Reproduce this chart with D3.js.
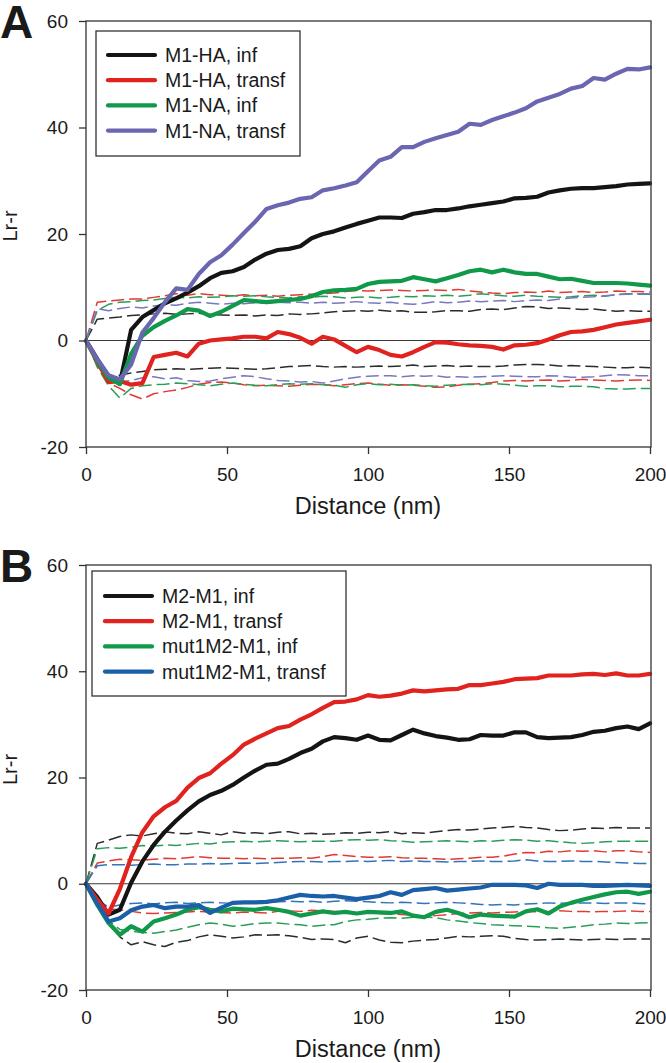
<!DOCTYPE html>
<html><head><meta charset="utf-8">
<script src="https://cdn.jsdelivr.net/npm/d3@7"></script>
<style>
body{margin:0;background:#fff}
svg{display:block}
text{font-family:"Liberation Sans",Arial,sans-serif;fill:#1a1a1a}
</style>
</head><body>
<svg id="chart" width="666" height="1063"></svg>
<script>
// ---------- data ----------
const distance = [0,4,8,12,16,20,24,28,32,36,40,44,48,52,56,60,64,68,72,76,80,84,88,92,96,100,104,108,112,116,120,124,128,132,136,140,144,148,152,156,160,164,168,172,176,180,184,188,192,196,200];
const xTickValues = [0,50,100,150,200];
const yTickValues = [-20,0,20,40,60];
const panelLabels = ["A","B"];
const axisTitleX = "Distance (nm)";
const axisTitleY = "Lr-r";

// Panel A
const legendA = ["M1-HA, inf","M1-HA, transf","M1-NA, inf","M1-NA, transf"];
const a_M1HA_inf = [0,-3.5,-6.8,-8.1,2.0,4.4,5.7,7.0,7.9,9.0,10.2,11.7,12.7,13.0,13.8,15.2,16.3,17.0,17.2,17.7,19.2,20.0,20.5,21.2,21.9,22.5,23.1,23.1,23.0,23.8,24.1,24.5,24.5,24.8,25.2,25.5,25.8,26.1,26.7,26.8,27.0,27.8,28.2,28.5,28.6,28.6,28.8,29.0,29.3,29.4,29.5];
const a_M1HA_transf = [0,-4.0,-7.8,-7.6,-8.3,-8.0,-3.1,-2.7,-2.3,-3.0,-0.6,0.0,0.2,0.4,0.7,0.7,0.4,1.6,1.2,0.5,-0.6,0.7,0.2,-1.0,-2.2,-1.2,-1.8,-2.7,-3.0,-2.2,-1.2,-0.3,-0.4,-0.7,-0.9,-1.0,-1.2,-1.7,-0.9,-0.8,-0.5,0.2,1.0,1.6,1.7,2.0,2.5,3.0,3.3,3.6,3.9];
const a_M1NA_inf = [0,-3.8,-7.0,-8.2,-2.5,0.9,2.5,3.7,4.7,5.9,5.6,4.6,5.4,6.5,7.6,7.4,7.2,7.4,7.6,7.8,8.3,9.1,9.4,9.5,9.7,10.6,11.0,11.1,11.2,11.9,11.5,11.1,11.7,12.3,13.0,13.3,12.8,13.3,12.8,12.5,12.5,12.0,11.5,11.6,11.2,10.8,10.8,10.8,10.7,10.5,10.3];
const a_M1NA_transf = [0,-3.5,-6.5,-7.3,-4.5,1.5,4.2,7.2,9.8,9.5,12.5,14.7,16.0,18.0,20.2,22.3,24.7,25.4,25.9,26.6,26.9,28.2,28.6,29.1,29.7,31.8,33.8,34.5,36.3,36.3,37.3,38.0,38.6,39.2,40.7,40.5,41.4,42.1,42.8,43.6,44.9,45.6,46.3,47.3,47.8,49.3,49.0,50.1,51.0,50.9,51.3];
const a_M1HA_inf_hi = [0,4.0,4.2,4.4,4.7,4.8,5.0,5.1,4.9,5.0,5.1,4.9,4.8,4.7,4.8,4.6,4.8,4.7,5.0,4.9,5.0,5.2,5.4,5.5,5.6,5.5,5.7,5.5,5.6,5.3,5.3,5.4,5.6,5.6,5.5,5.8,5.9,5.8,6.1,6.4,6.3,6.0,6.1,6.0,5.8,5.9,5.7,5.5,5.6,5.5,5.5];
const a_M1HA_inf_lo = [0,-4.0,-7.0,-6.5,-6.1,-5.8,-5.5,-5.4,-5.3,-5.4,-5.3,-5.2,-5.1,-5.2,-5.3,-5.4,-5.3,-5.1,-4.9,-4.8,-4.7,-4.9,-5.0,-4.9,-5.0,-4.9,-4.8,-4.9,-4.8,-4.6,-4.9,-4.8,-4.7,-4.9,-4.8,-4.9,-4.9,-4.8,-4.6,-4.5,-4.5,-4.6,-4.8,-4.7,-4.8,-4.9,-5.0,-5.1,-5.1,-5.0,-5.1];
const a_M1HA_transf_hi = [0,7.2,7.4,7.6,7.8,7.8,8.1,8.4,8.8,8.5,8.8,8.6,8.5,8.4,8.6,8.4,8.5,8.3,8.5,8.6,8.7,8.8,8.9,9.2,9.4,9.3,9.4,9.5,9.4,9.3,9.4,9.5,9.4,9.6,9.3,9.1,8.9,8.8,9.0,9.1,9.0,9.3,9.0,9.1,9.2,9.0,9.1,9.3,9.2,9.2,9.1];
const a_M1HA_transf_lo = [0,-4.5,-8.0,-9.0,-10.2,-11.0,-10.0,-9.6,-9.3,-8.8,-8.2,-7.9,-7.8,-8.0,-8.3,-8.5,-8.4,-8.5,-8.6,-8.4,-8.2,-8.3,-8.5,-8.3,-8.1,-8.0,-8.2,-8.4,-8.3,-8.4,-8.6,-8.8,-8.7,-8.4,-8.2,-8.1,-7.9,-7.6,-7.5,-7.6,-7.5,-7.4,-7.6,-7.5,-7.3,-7.4,-7.5,-7.6,-7.5,-7.4,-7.5];
const a_M1NA_inf_hi = [0,5.6,6.8,7.2,7.3,7.5,7.6,7.9,8.1,8.0,8.2,8.1,8.2,8.4,8.3,8.4,8.2,8.1,8.0,8.2,8.1,8.3,8.2,8.0,8.1,8.2,8.0,8.1,8.3,8.2,8.4,8.3,8.5,8.3,8.5,8.8,8.6,8.4,8.3,8.5,8.3,8.2,8.1,8.2,8.4,8.5,8.3,8.6,8.8,8.7,8.7];
const a_M1NA_inf_lo = [0,-5.0,-8.5,-10.8,-9.0,-8.5,-8.3,-8.2,-8.0,-8.1,-8.3,-8.5,-8.2,-8.0,-8.2,-8.4,-8.5,-8.3,-8.1,-8.2,-8.1,-8.3,-8.4,-8.8,-8.3,-8.1,-8.3,-8.2,-8.4,-8.3,-8.5,-8.6,-8.4,-8.3,-8.2,-8.3,-8.1,-8.2,-8.4,-8.6,-8.5,-8.5,-8.7,-8.6,-8.6,-8.7,-9.0,-9.1,-9.1,-9.0,-9.0];
const a_M1NA_transf_hi = [0,6.0,5.6,6.0,6.3,6.1,6.5,6.7,6.6,7.0,7.2,7.0,6.8,7.0,6.9,7.1,7.0,7.2,7.1,7.2,7.0,7.2,7.0,7.1,7.3,7.1,7.0,7.2,6.9,6.8,7.0,7.3,7.1,7.2,7.4,7.3,7.4,7.5,7.3,7.5,7.6,7.5,7.8,8.0,8.1,8.2,8.4,8.6,8.7,8.8,8.8];
const a_M1NA_transf_lo = [0,-4.5,-7.5,-7.8,-7.5,-7.0,-6.8,-7.2,-7.0,-7.5,-7.7,-7.6,-7.2,-6.9,-6.6,-6.8,-7.2,-7.5,-7.6,-7.8,-7.7,-8.0,-7.6,-7.2,-6.9,-6.7,-6.6,-6.6,-6.8,-6.6,-6.7,-6.6,-6.9,-6.8,-6.9,-6.8,-6.7,-6.6,-6.7,-6.8,-6.8,-6.6,-6.7,-6.9,-6.9,-6.8,-6.6,-6.4,-6.5,-6.6,-6.6];

// Panel B
const legendB = ["M2-M1, inf","M2-M1, transf","mut1M2-M1, inf","mut1M2-M1, transf"];
const b_M2M1_inf = [0,-2.5,-5.8,-4.9,0.2,4.2,7.3,9.8,11.9,13.8,15.5,16.7,17.5,18.6,20.0,21.3,22.4,22.6,23.5,24.6,25.4,26.8,27.6,27.4,27.1,27.9,27.1,27.0,28.0,29.0,28.3,27.8,27.5,27.1,27.2,28.0,27.9,27.9,28.5,28.5,27.6,27.4,27.5,27.6,28.0,28.6,28.8,29.3,29.6,29.1,30.2];
const b_M2M1_transf = [0,-3.0,-5.6,-1.0,5.0,9.7,12.7,14.4,15.6,18.1,19.9,20.8,22.6,24.2,26.2,27.3,28.3,29.3,29.7,30.9,31.9,33.1,34.2,34.3,34.7,35.5,35.2,35.4,35.8,36.4,36.2,36.4,36.6,36.7,37.4,37.4,37.7,38.0,38.5,38.6,38.7,39.2,39.2,39.2,39.4,39.5,39.3,39.6,39.2,39.2,39.5];
const b_mut_inf = [0,-4.0,-7.4,-9.6,-8.0,-9.0,-7.1,-6.5,-5.8,-4.9,-4.4,-4.9,-5.2,-4.7,-4.8,-4.9,-4.6,-4.9,-5.3,-6.0,-5.6,-5.2,-5.5,-5.3,-5.6,-5.3,-5.4,-5.5,-5.2,-6.0,-6.3,-5.3,-4.9,-5.5,-6.3,-5.8,-6.0,-6.1,-6.2,-5.2,-4.8,-5.6,-4.3,-3.6,-3.0,-2.5,-2.0,-1.6,-1.5,-1.9,-1.5];
const b_mut_transf = [0,-3.8,-7.1,-6.5,-5.0,-4.3,-4.0,-4.6,-4.3,-4.3,-4.0,-5.5,-4.5,-3.6,-3.5,-3.5,-3.4,-3.1,-2.6,-2.1,-2.3,-2.4,-2.3,-2.6,-2.9,-2.6,-2.3,-1.6,-2.1,-1.2,-1.0,-0.8,-1.3,-1.1,-0.9,-0.7,-0.2,-0.2,-0.2,-0.3,-0.8,0.0,-0.2,-0.2,-0.2,-0.4,-0.4,-0.3,-0.2,-0.3,-0.4];
const b_M2M1_inf_hi = [0,7.6,8.2,8.9,9.2,9.0,9.4,9.8,9.5,9.4,9.8,9.5,9.2,9.8,9.5,9.6,9.4,9.7,9.8,9.4,9.5,9.3,9.4,9.6,9.5,9.7,9.6,9.8,9.4,9.6,9.5,9.8,10.0,10.2,10.1,10.3,10.5,10.6,10.8,10.6,10.5,10.2,10.0,10.1,10.3,10.5,10.4,10.6,10.5,10.5,10.5];
const b_M2M1_inf_lo = [0,-4.0,-7.5,-10.0,-11.5,-10.9,-11.5,-11.8,-11.0,-10.7,-10.0,-9.6,-9.9,-10.2,-10.0,-9.6,-9.7,-9.6,-9.8,-10.1,-10.5,-10.4,-10.5,-11.1,-10.2,-9.9,-10.6,-11.0,-11.1,-10.8,-10.6,-10.5,-10.2,-9.9,-10.0,-9.9,-9.8,-9.9,-10.3,-10.5,-10.6,-10.5,-10.4,-10.5,-10.6,-10.5,-10.4,-10.5,-10.4,-10.4,-10.4];
const b_M2M1_transf_hi = [0,3.9,4.3,4.6,4.5,4.4,4.6,4.8,4.7,4.9,5.1,4.9,4.8,4.8,4.7,4.8,4.7,4.8,4.8,4.9,4.8,5.1,5.5,5.3,5.1,5.0,5.0,5.1,4.9,4.8,4.8,4.7,4.6,4.7,4.8,5.0,5.0,5.2,5.6,5.9,5.8,6.1,6.0,6.2,6.1,6.2,6.0,6.2,6.2,6.0,5.9];
const b_M2M1_transf_lo = [0,-3.0,-4.8,-4.9,-5.2,-5.5,-5.6,-5.5,-5.4,-5.3,-5.2,-5.3,-5.4,-5.5,-5.3,-5.4,-5.5,-5.2,-5.1,-5.2,-5.0,-5.1,-5.2,-5.3,-5.5,-5.4,-5.6,-5.7,-5.8,-5.9,-6.2,-6.0,-5.8,-5.6,-5.5,-5.4,-5.5,-5.4,-5.3,-5.2,-5.3,-5.2,-5.1,-5.2,-5.2,-5.3,-5.2,-5.2,-5.1,-5.2,-5.2];
const b_mut_inf_hi = [0,6.6,6.8,6.7,6.9,7.2,7.1,7.3,7.2,7.4,7.6,7.5,7.8,7.9,8.0,7.9,8.0,8.1,8.0,7.9,8.0,8.0,8.0,8.2,8.3,8.2,8.3,8.1,8.0,7.8,7.9,8.0,8.1,8.0,7.9,8.1,8.0,8.2,8.3,8.2,8.0,8.1,7.9,7.7,7.6,7.7,7.9,8.0,8.0,8.0,8.0];
const b_mut_inf_lo = [0,-4.0,-7.0,-8.6,-8.9,-9.2,-9.3,-9.0,-8.7,-8.2,-7.7,-7.4,-7.6,-8.0,-7.8,-7.5,-7.4,-7.4,-7.6,-7.7,-8.0,-7.8,-7.7,-7.1,-6.8,-6.7,-6.5,-6.4,-6.5,-6.3,-6.2,-6.4,-6.8,-7.0,-7.3,-7.5,-7.7,-7.8,-7.9,-8.0,-8.1,-8.3,-8.4,-8.2,-8.0,-7.7,-7.6,-7.4,-7.5,-7.4,-7.3];
const b_mut_transf_hi = [0,3.4,3.6,3.6,3.5,3.6,3.7,3.6,3.6,3.7,3.7,3.8,3.7,3.8,3.9,3.8,3.9,4.0,4.1,4.2,4.2,4.1,4.2,4.2,4.3,4.2,4.3,4.4,4.2,4.3,4.2,4.2,4.1,4.2,4.2,4.3,4.2,4.2,4.3,4.5,4.3,4.2,4.2,4.3,4.2,4.2,4.1,4.0,3.9,3.8,3.8];
const b_mut_transf_lo = [0,-3.0,-4.4,-4.0,-3.7,-3.6,-3.8,-3.6,-3.5,-3.7,-3.6,-3.5,-3.6,-3.7,-3.6,-3.5,-3.6,-3.4,-3.3,-3.4,-3.3,-3.5,-3.3,-3.2,-3.3,-3.4,-3.5,-3.6,-3.5,-3.6,-3.7,-3.6,-3.5,-3.6,-3.7,-3.9,-4.0,-3.9,-4.0,-3.8,-3.7,-3.6,-3.7,-3.6,-3.6,-3.6,-3.7,-3.6,-3.6,-3.7,-3.8];

// ---------- drawing ----------
const svg = d3.select("#chart");
const x = d3.scaleLinear().domain([0,200]).range([86,650]);

const panels = [
  {label: panelLabels[0], top: 21, bottom: 447, labelY: 38,
   legend: legendA, box: {x0: 96, y0: 31, x1: 300, y1: 156}, lineX0: 108, lineX1: 155, textX: 165, row0: 55,
   series: [
     {v: a_M1HA_inf, hi: a_M1HA_inf_hi, lo: a_M1HA_inf_lo, color: "#141414", dash: "#2b2b2b"},
     {v: a_M1HA_transf, hi: a_M1HA_transf_hi, lo: a_M1HA_transf_lo, color: "#e0231f", dash: "#e23a33"},
     {v: a_M1NA_inf, hi: a_M1NA_inf_hi, lo: a_M1NA_inf_lo, color: "#10994a", dash: "#2a9e58"},
     {v: a_M1NA_transf, hi: a_M1NA_transf_hi, lo: a_M1NA_transf_lo, color: "#6a66b0", dash: "#7a76c0"}
   ]},
  {label: panelLabels[1], top: 565, bottom: 990, labelY: 582,
   legend: legendB, box: {x0: 92, y0: 571, x1: 346, y1: 696}, lineX0: 105, lineX1: 152, textX: 162, row0: 596,
   series: [
     {v: b_M2M1_inf, hi: b_M2M1_inf_hi, lo: b_M2M1_inf_lo, color: "#141414", dash: "#2b2b2b"},
     {v: b_M2M1_transf, hi: b_M2M1_transf_hi, lo: b_M2M1_transf_lo, color: "#e0231f", dash: "#e23a33"},
     {v: b_mut_inf, hi: b_mut_inf_hi, lo: b_mut_inf_lo, color: "#10994a", dash: "#2a9e58"},
     {v: b_mut_transf, hi: b_mut_transf_hi, lo: b_mut_transf_lo, color: "#1b5fa8", dash: "#3274b8"}
   ]}
];

panels.forEach(p => {
  const y = d3.scaleLinear().domain([-20,60]).range([p.bottom, p.top]);
  const g = svg.append("g");
  const line = d3.line().x((d,i) => x(distance[i])).y(d => y(d));

  // dashed envelopes
  p.series.forEach(s => {
    [s.hi, s.lo].forEach(arr => {
      g.append("path").attr("d", line(arr)).attr("fill","none")
        .attr("stroke", s.dash).attr("stroke-width", 1.5)
        .attr("stroke-dasharray", "13,5").attr("stroke-linejoin","round");
    });
  });

  // zero line
  g.append("line").attr("x1", x(0)).attr("x2", x(200)).attr("y1", y(0)).attr("y2", y(0))
    .attr("stroke", "#3a3a3a").attr("stroke-width", 1);

  // thick lines
  p.series.forEach(s => {
    g.append("path").attr("d", line(s.v)).attr("fill","none")
      .attr("stroke", s.color).attr("stroke-width", 4.2)
      .attr("stroke-linejoin","round").attr("stroke-linecap","round");
  });

  // frame
  g.append("rect").attr("x", x(0)).attr("y", y(60))
    .attr("width", x(200) - x(0) + 1).attr("height", y(-20) - y(60))
    .attr("fill","none").attr("stroke","#333").attr("stroke-width",1.3);

  // axes
  const yAxis = d3.axisLeft(y).tickValues(yTickValues).tickSize(7).tickSizeOuter(0).tickPadding(11).tickFormat(d => String(d));
  const ya = g.append("g").attr("transform", `translate(${x(0)},0)`).call(yAxis);
  const xAxis = d3.axisBottom(x).tickValues(xTickValues).tickSize(7).tickSizeOuter(0).tickPadding(14).tickFormat(d => String(d));
  const xa = g.append("g").attr("transform", `translate(0,${y(-20)})`).call(xAxis);
  [ya, xa].forEach(a => {
    a.select(".domain").remove();
    a.attr("font-family", null).attr("font-size", null);
    a.selectAll(".tick line").attr("stroke", "#333").attr("stroke-width", 1.3);
    a.selectAll(".tick text").attr("font-size", 19).attr("fill", "#1a1a1a");
  });

  // axis titles
  g.append("text").attr("x", (x(0) + x(200)) / 2).attr("y", y(-20) + 67)
    .attr("text-anchor", "middle").attr("font-size", 23.5).text(axisTitleX);
  g.append("text").attr("transform", `translate(17,${(p.top + p.bottom) / 2 - 8}) rotate(-90)`)
    .attr("text-anchor", "middle").attr("font-size", 20).text(axisTitleY);

  // panel label
  g.append("text").attr("x", 0).attr("y", p.labelY).attr("font-size", 46)
    .attr("font-weight", "bold").text(p.label);

  // legend
  g.append("rect").attr("x", p.box.x0).attr("y", p.box.y0)
    .attr("width", p.box.x1 - p.box.x0).attr("height", p.box.y1 - p.box.y0)
    .attr("fill", "#fff").attr("stroke", "#333").attr("stroke-width", 1.3);
  p.series.forEach((s, i) => {
    const ry = p.row0 + i * 25.2;
    g.append("line").attr("x1", p.lineX0).attr("x2", p.lineX1).attr("y1", ry).attr("y2", ry)
      .attr("stroke", s.color).attr("stroke-width", 4.2).attr("stroke-linecap", "round");
    g.append("text").attr("x", p.textX).attr("y", ry + 7).attr("font-size", 19.5).text(p.legend[i]);
  });
});
</script>
</body></html>
